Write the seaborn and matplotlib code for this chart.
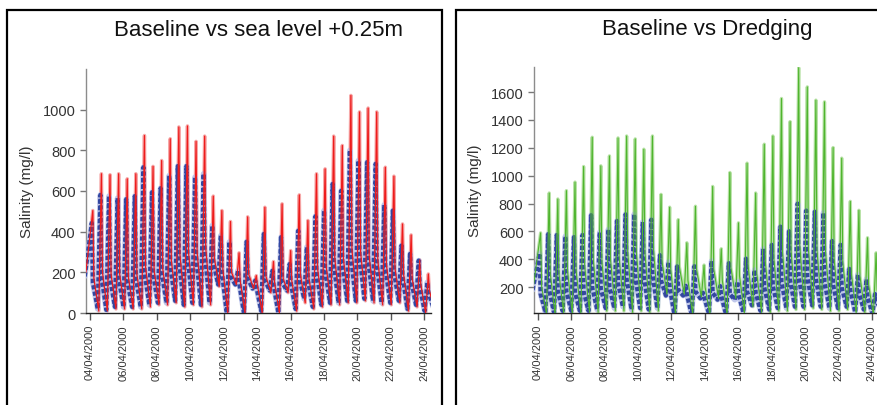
import numpy as np
import pandas as pd
import seaborn as sns
import matplotlib
matplotlib.use("Agg")
import matplotlib.pyplot as plt
from matplotlib.patches import Rectangle

# --- values, one entry per tidal cycle (~12.4 h) ---
baseline_peak = [443, 581, 575, 565, 560, 575, 717, 594, 614, 676, 723, 723, 668, 685,
                 430, 381, 350, 210, 351, 160, 389, 208, 373, 241, 405, 324,
                 476, 504, 635, 602, 800, 750, 742, 734, 532, 504, 332, 291, 258, 151]
baseline_shoulder = [150, 180, 170, 170, 160, 170, 200, 190, 200, 230, 260, 280, 280, 300,
                     250, 200, 180, 150, 170, 130, 160, 140, 150, 150, 170, 160,
                     200, 210, 240, 250, 280, 280, 260, 240, 220, 200, 180, 160, 130, 100]
baseline_trough = [20, 15, 30, 30, 30, 30, 40, 50, 50, 60, 40, 50, 40, 50,
                   140, 0, 140, 0, 120, 10, 110, 0, 110, 20, 70, 30,
                   40, 50, 50, 60, 60, 70, 60, 50, 50, 60, 20, 40, 10, 30]

sealevel_peak = [504, 685, 680, 685, 660, 685, 873, 721, 750, 857, 915, 920, 844, 870,
                 575, 504, 450, 296, 473, 184, 520, 253, 537, 307, 581, 455,
                 685, 709, 870, 824, 1070, 989, 1008, 989, 717, 673, 438, 384, 261, 192]
sealevel_shoulder = [170, 200, 190, 190, 180, 190, 230, 210, 220, 260, 290, 300, 300, 320,
                     270, 210, 200, 160, 190, 140, 180, 150, 170, 160, 190, 170,
                     220, 230, 270, 270, 310, 300, 280, 260, 240, 220, 190, 170, 140, 110]
sealevel_trough = [10, 10, 20, 20, 20, 20, 30, 40, 40, 50, 30, 40, 30, 40,
                   130, 0, 140, 0, 120, 0, 100, 0, 100, 10, 50, 20,
                   30, 40, 40, 50, 50, 60, 50, 40, 40, 50, 10, 30, 0, 20]

dredging_peak = [590, 876, 833, 893, 954, 1066, 1276, 1071, 1142, 1271, 1285, 1264, 1190, 1285,
                 866, 774, 685, 519, 781, 359, 923, 476, 1023, 662, 1090, 876,
                 1226, 1285, 1554, 1388, 1775, 1637, 1542, 1530, 1202, 1126, 816, 752, 555, 447]
dredging_shoulder = [200, 300, 300, 320, 320, 350, 400, 380, 400, 420, 450, 460, 450, 470,
                     380, 330, 350, 250, 330, 200, 330, 250, 340, 280, 350, 300,
                     380, 400, 450, 450, 500, 480, 470, 450, 400, 380, 300, 280, 220, 180]
dredging_trough = [10, 0, 10, 10, 10, 20, 20, 30, 30, 30, 20, 30, 20, 30,
                   150, 0, 150, 0, 130, 0, 120, 0, 120, 10, 60, 20,
                   20, 30, 30, 40, 40, 50, 40, 30, 30, 40, 10, 20, 0, 10]

start_value = {"baseline": 180, "sealevel": 200, "dredging": 220}
# scenario peaks arrive a little after the baseline peaks (hours)
peak_lag = {"baseline": -1.5, "sealevel": 0.0, "dredging": 0.0}

first_peak = pd.Timestamp("2000-04-04 04:00")
period = pd.Timedelta(hours=12.36)
tick_dates = pd.date_range("2000-04-04", "2000-04-24", freq="2D")
xlim = (pd.Timestamp("2000-04-03 18:15"), pd.Timestamp("2000-04-24 10:00"))


def build_series(peak, shoulder, trough, v0, lag):
    t0 = first_peak + pd.Timedelta(hours=lag)
    t = [t0 - pd.Timedelta(hours=10)]
    v = [v0]
    for k in range(len(peak)):
        tp = t0 + k * period
        t += [tp, tp + pd.Timedelta(hours=1.5), tp + pd.Timedelta(hours=8.5)]
        v += [peak[k], shoulder[k], trough[k]]
    return pd.DataFrame({"time": t, "salinity": v})


base = build_series(baseline_peak, baseline_shoulder, baseline_trough,
                    start_value["baseline"], peak_lag["baseline"])
sea = build_series(sealevel_peak, sealevel_shoulder, sealevel_trough,
                   start_value["sealevel"], peak_lag["sealevel"])
dredge = build_series(dredging_peak, dredging_shoulder, dredging_trough,
                      start_value["dredging"], peak_lag["dredging"])

sns.set_theme(style="white")
plt.rcParams["font.family"] = ["Liberation Sans", "DejaVu Sans"]

fig = plt.figure(figsize=(8.78, 4.06), dpi=100)
ax1 = fig.add_axes([0.098, 0.2266, 0.393, 0.601])
ax2 = fig.add_axes([0.608, 0.2266, 0.393, 0.606])


def draw_pair(ax, df, dark, light, lw):
    # soft halo of the scenario line, under everything
    sns.lineplot(data=df, x="time", y="salinity", ax=ax, color=light, lw=lw + 1.6, zorder=2)
    # baseline: heavy dotted blue
    sns.lineplot(data=base, x="time", y="salinity", ax=ax, color="#b6bfe8", lw=4.0,
                 alpha=0.85, zorder=3)
    sns.lineplot(data=base, x="time", y="salinity", ax=ax, color="#3347a0", lw=3.0,
                 linestyle=(0, (1.0, 0.55)), zorder=4)
    # scenario line itself on top
    sns.lineplot(data=df, x="time", y="salinity", ax=ax, color=dark, lw=lw, zorder=5)


draw_pair(ax1, sea, "#ee1c1c", "#f6a9a9", 0.9)
draw_pair(ax2, dredge, "#4fb52e", "#b9e2a8", 0.8)

for ax in (ax1, ax2):
    ax.set_xlim(*xlim)
    ax.set_xticks(tick_dates)
    ax.set_xticklabels([d.strftime("%d/%m/%Y") for d in tick_dates], rotation=90,
                       fontsize=8, color="#333333")
    ax.set_xlabel("")
    ax.set_ylabel("Salinity (mg/l)", fontsize=11, color="#333333", labelpad=6)
    for s in ("top", "right"):
        ax.spines[s].set_visible(False)
    ax.spines["left"].set_color("#8c8c8c")
    ax.spines["bottom"].set_color("#222222")
    ax.spines["left"].set_linewidth(1.0)
    ax.spines["bottom"].set_linewidth(1.0)
    ax.tick_params(axis="x", length=5, width=1, color="#555555", pad=3, direction="out",
                   bottom=True)
    ax.tick_params(axis="y", length=4, width=1, color="#777777", labelsize=10.5,
                   labelcolor="#333333", left=True)
    ax.set_facecolor("white")

ax1.set_ylim(0, 1200)
ax1.set_yticks(range(0, 1001, 200))
ax2.set_ylim(15, 1780)
ax2.set_yticks(range(200, 1601, 200))

# panel frames
fig.patches.append(Rectangle((7 / 878, -0.1), 435 / 878, 1.1 - 11 / 406,
                             transform=fig.transFigure, fill=False, ec="black", lw=1.6))
fig.patches.append(Rectangle((456 / 878, -0.1), 0.6, 1.1 - 11 / 406,
                             transform=fig.transFigure, fill=False, ec="black", lw=1.6))

fig.text(259 / 878, 1 - 30 / 406, "Baseline vs sea level +0.25m", ha="center", va="center",
         fontsize=16, color="#111111")
fig.text(707 / 878, 1 - 30 / 406, "Baseline vs Dredging", ha="center", va="center",
         fontsize=16, color="#111111")

fig.savefig("out.png", dpi=100)
